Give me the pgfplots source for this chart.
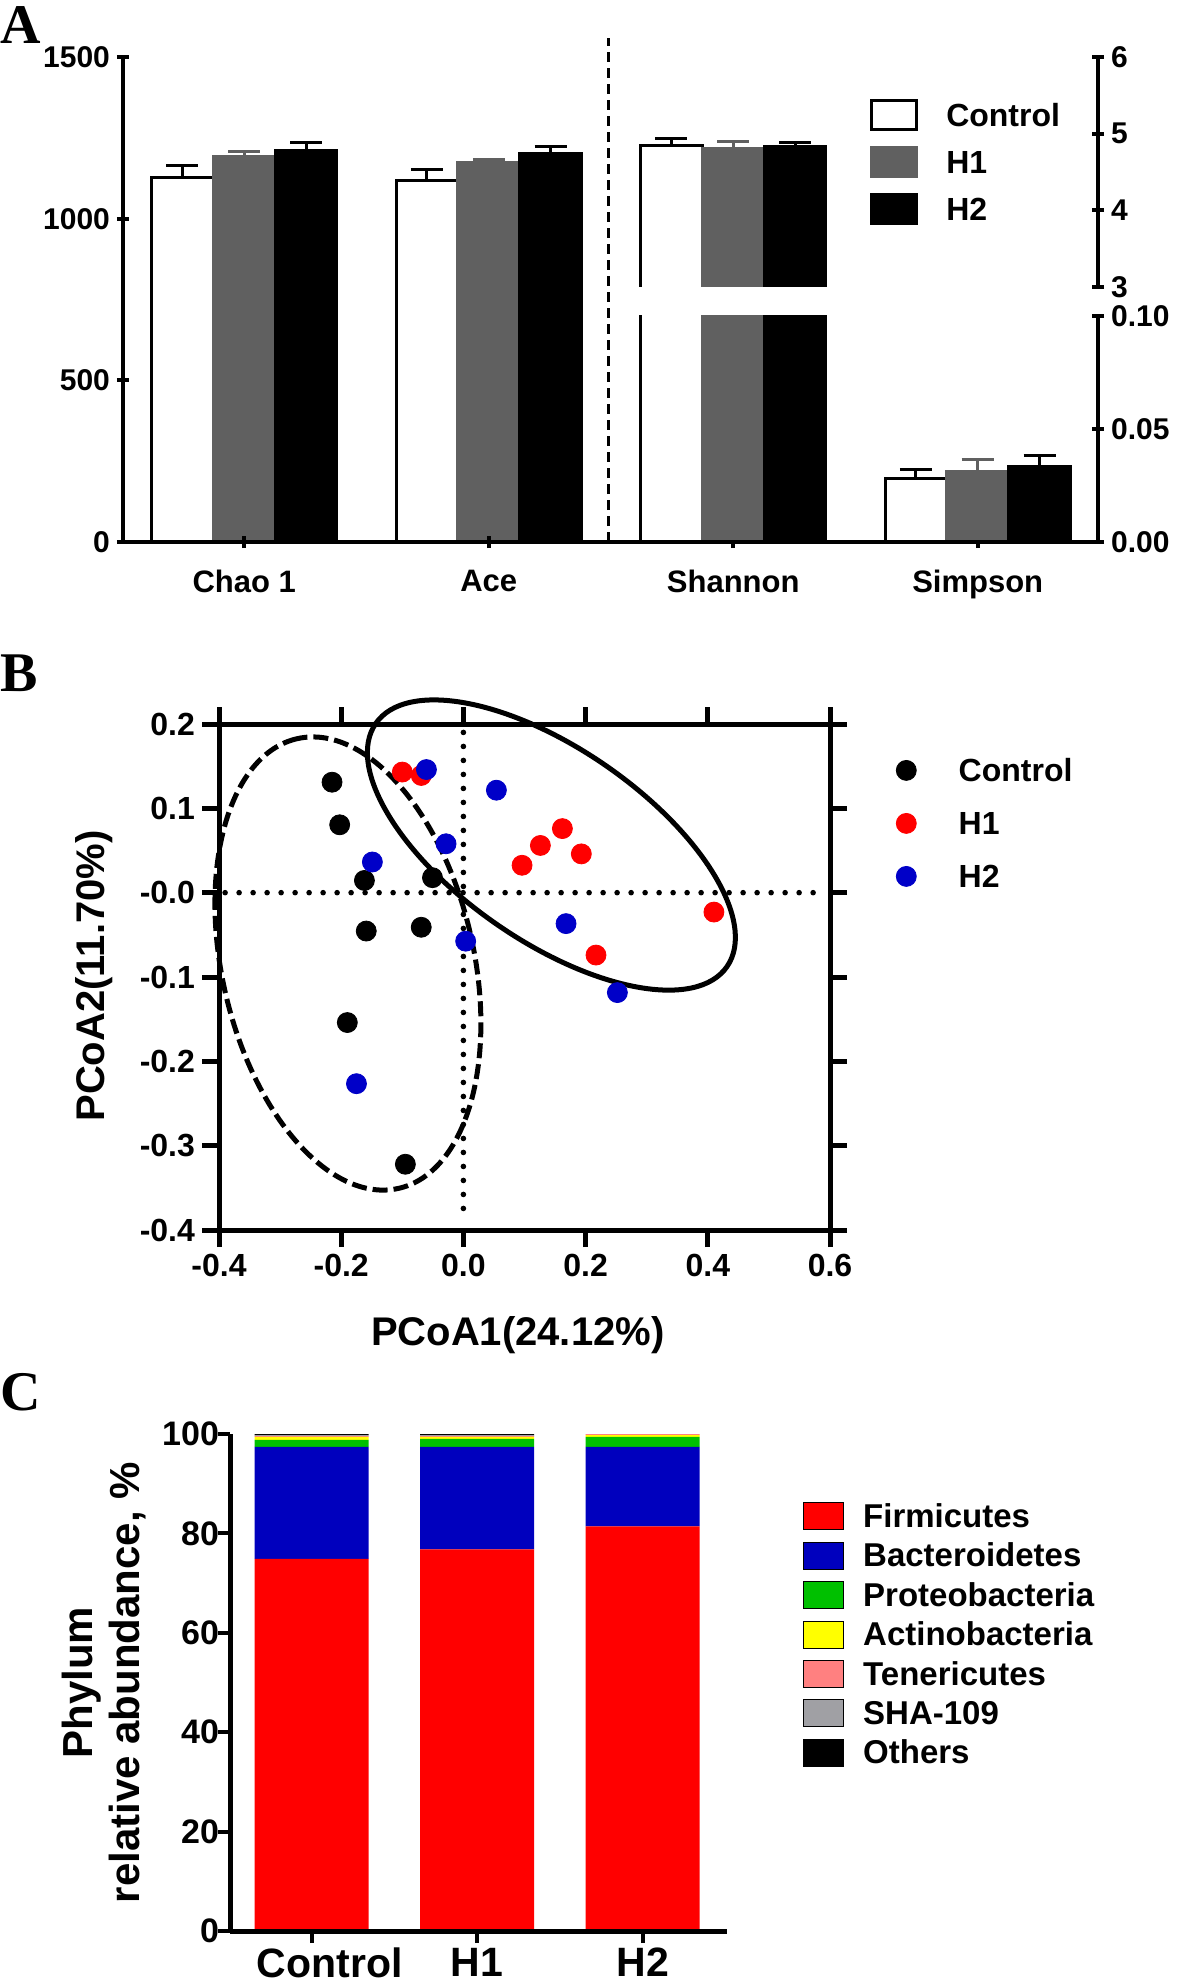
\documentclass[border=0pt]{standalone}
\usepackage{fontspec}
\setmainfont{Liberation Sans}
\newfontfamily\letterfont{Liberation Serif}
\usepackage{pgfplots}
\pgfplotsset{compat=1.18}

\definecolor{hgray}{RGB}{96,96,96}
\definecolor{pred}{RGB}{255,0,0}
\definecolor{pblue}{RGB}{0,0,200}
\definecolor{cred}{RGB}{255,0,0}
\definecolor{cblue}{RGB}{0,0,190}
\definecolor{cgreen}{RGB}{0,192,0}
\definecolor{cyellow}{RGB}{255,255,0}
\definecolor{cpink}{RGB}{255,128,128}
\definecolor{cgrey}{RGB}{160,160,164}

\newcommand\fs[1]{\fontsize{#1}{#1}\selectfont\bfseries}

% legend swatches: box size set per panel by \legw, \legh, \legc
\pgfplotsset{
  boxleg/.style={legend image code/.code={%
    \draw[##1] (0pt,\legc-\legh) rectangle (\legw,\legc+\legh);}},
  dotleg/.style={legend image code/.code={\fill[##1] (5pt,1.5pt) circle (5pt);}},
}

\begin{document}
\begin{tikzpicture}

% ---------------- A : alpha diversity ----------------
\def\legw{22.5pt}\def\legh{7.25pt}\def\legc{1.4pt}
\pgfplotsset{
  panelA/.style={
    anchor=south west, scale only axis, width=487.5pt,
    xmin=-0.496, xmax=3.492,
    tick style={line width=2pt, black}, tick align=outside, major tick length=6pt,
    yticklabel style={font=\fs{15}},
    axis on top,
    error bars/y dir=plus, error bars/y explicit,
    error bars/error bar style={line width=1.5pt},
    error bars/error mark options={rotate=90, line width=1.5pt, mark size=8pt},
  },
  alsA/.style={axis line style={-, line width=2pt}},
  barC/.style={ybar, bar width=0.2527, bar shift=0, color=black, fill=white, line width=1.5pt, boxleg},
  barH1/.style={ybar, bar width=0.2527, bar shift=0, color=hgray, fill=hgray, line width=1.5pt, boxleg},
  barH2/.style={ybar, bar width=0.2527, bar shift=0, color=black, fill=black, line width=1.5pt, boxleg},
}
\begin{axis}[panelA,
  at={(61.5pt,-271pt)}, height=242.35pt,
  ymin=0, ymax=1500, clip=false,
  axis x line=bottom, axis y line=left,
  xtick={0,1,2,3}, xticklabels={Chao 1,Ace,Shannon,Simpson},
  xticklabel style={font=\fs{15.5}, yshift=-7.5pt},
  ytick={0,500,1000,1500}, yticklabels={0,500,1000,1500},
  legend cell align=left,
  legend style={at={(0.766,0.914)}, anchor=north west, draw=none, fill=none,
    inner sep=0pt, font=\fs{16}, row sep=6.35pt,
    nodes={inner sep=0pt, text height=12pt, text depth=3.5pt},
    /tikz/every odd column/.append style={column sep=14pt}},
  alsA,
]
\addplot[barC] coordinates {(-0.2527,1127) +- (0,39) (0.7473,1118) +- (0,36)};
\addplot[barH1] coordinates {(0,1192) +- (0,15) (1,1173) +- (0,12)};
\addplot[barH2] coordinates {(0.2527,1213) +- (0,24) (1.2527,1201) +- (0,24)};
\legend{Control,H1,H2}
\draw[line width=1.5pt, dash pattern=on 5pt off 3pt] (axis cs:1.491,0) -- (axis cs:1.491,1559);
\end{axis}

% upper right scale: Shannon
\begin{axis}[panelA,
  at={(61.5pt,-143.5pt)}, height=115pt,
  ymin=3, ymax=6,
  axis x line=none, axis y line=right,
  xtick=\empty, ytick={3,4,5,6}, yticklabels={3,4,5,6},
  alsA,
]
\addplot[ybar, bar width=0.2527, bar shift=0, fill=white, draw=none,
  error bars/error bar style={draw=black, line width=1.5pt},
  error bars/error mark options={rotate=90, draw=black, line width=1.5pt, mark size=8pt}]
  coordinates {(1.7473,4.85) +- (0,0.09)};
\addplot[black, line width=1.5pt, mark=none, error bars/y dir=none]
  coordinates {(1.62095,3) (1.62095,4.85) (1.87365,4.85) (1.87365,3)};
\addplot[barH1] coordinates {(2,4.80) +- (0,0.10)};
\addplot[barH2] coordinates {(2.2527,4.83) +- (0,0.06)};
\end{axis}

% lower right scale: Simpson (and lower part of the Shannon bars)
\begin{axis}[panelA,
  at={(61.5pt,-271pt)}, height=113pt,
  ymin=0, ymax=0.1,
  axis x line=bottom, axis y line=right,
  xtick=\empty, ytick={0,0.05,0.1}, yticklabels={0.00,0.05,0.10},
  alsA,
]
\addplot[barC] coordinates {(1.7473,4.85) +- (0,0) (2.7473,0.0283) +- (0,0.0037)};
\addplot[barH1] coordinates {(2,4.80) +- (0,0) (3,0.0314) +- (0,0.0052)};
\addplot[barH2] coordinates {(2.2527,4.83) +- (0,0) (3.2527,0.0332) +- (0,0.0050)};
\end{axis}

% ---------------- B : PCoA ----------------
\begin{axis}[
  at={(109.5pt,-615pt)}, anchor=south west, scale only axis,
  width=305.5pt, height=253pt,
  xmin=-0.4, xmax=0.6, ymin=-0.4, ymax=0.2,
  xtick={-0.4,-0.2,0,0.2,0.4,0.6}, xticklabels={-0.4,-0.2,0.0,0.2,0.4,0.6},
  ytick={-0.4,-0.3,-0.2,-0.1,0,0.1,0.2},
  yticklabels={-0.4,-0.3,-0.2,-0.1,-0.0,0.1,0.2},
  tick pos=both, xticklabel pos=bottom, yticklabel pos=left,
  axis line style={line width=2.5pt},
  tick style={line width=2.5pt, black}, tick align=outside, major tick length=8.5pt,
  ticklabel style={font=\fs{16}},
  xlabel={PCoA1(24.12\%)}, ylabel={PCoA2(11.70\%)},
  label style={font=\fs{20}},
  xlabel style={at={(axis description cs:0.489,-0.2075)}, anchor=center},
  ylabel style={at={(axis description cs:-0.2046,0.502)}, anchor=center},
  clip=false,
  legend cell align=left,
  legend style={at={(1.1072,0.9338)}, anchor=north west, draw=none, fill=none,
    inner sep=0pt, font=\fs{16}, row sep=11pt,
    nodes={inner sep=0pt, text height=12pt, text depth=3.5pt},
    /tikz/every odd column/.append style={column sep=21pt}},
]
\draw[line width=2.5pt, dash pattern=on 7.5pt off 3pt,
  rotate around={102.7:(axis cs:-0.189,-0.084)}]
  (axis cs:-0.189,-0.084) ellipse [x radius=115.25pt, y radius=63pt];
\draw[line width=2.5pt, rotate around={-34.7:(axis cs:0.144,0.0565)}]
  (axis cs:0.144,0.0565) ellipse [x radius=106.8pt, y radius=48.15pt];
\addplot[forget plot, line width=2.8pt, line cap=round, dash pattern=on 0pt off 7pt]
  coordinates {(-0.39,0) (0.59,0)};
\addplot[forget plot, line width=2.8pt, line cap=round, dash pattern=on 0pt off 7pt]
  coordinates {(0,0.19) (0,-0.39)};
\addplot[only marks, mark=*, mark size=5pt, color=black, dotleg] coordinates {
  (-0.215,0.131) (-0.2025,0.0805) (-0.162,0.0145) (-0.0506,0.0178)
  (-0.159,-0.0455) (-0.069,-0.041) (-0.190,-0.154) (-0.095,-0.322)};
\addplot[only marks, mark=*, mark size=5pt, color=pred, dotleg] coordinates {
  (-0.100,0.143) (-0.069,0.139) (0.162,0.076) (0.126,0.056)
  (0.193,0.046) (0.096,0.0325) (0.410,-0.023) (0.217,-0.074)};
\addplot[only marks, mark=*, mark size=5pt, color=pblue, dotleg] coordinates {
  (-0.0605,0.146) (0.054,0.1215) (-0.0284,0.058) (-0.149,0.0364)
  (0.0037,-0.0575) (0.168,-0.0367) (0.252,-0.1185) (-0.175,-0.2265)};
\legend{Control,H1,H2}
\end{axis}

% ---------------- C : phylum composition ----------------
\def\legw{20pt}\def\legh{6.75pt}\def\legc{1.3pt}
\begin{axis}[
  at={(115pt,-965.5pt)}, anchor=south west, scale only axis,
  width=248.5pt, height=248.5pt,
  xmin=-0.494, xmax=2.51, ymin=0, ymax=100,
  ybar stacked, bar width=0.689,
  axis x line=bottom, axis y line=left,
  axis line style={-, line width=2.5pt},
  tick style={line width=2pt, black}, tick align=outside, major tick length=6pt,
  xtick={0,1,2}, xticklabels={\hspace*{18pt}Control,H1,H2},
  xticklabel style={font=\fs{20.5}, yshift=1pt},
  ytick={0,20,40,60,80,100}, yticklabels={0,20,40,60,80,100},
  yticklabel style={font=\fs{17}, xshift=4pt},
  ylabel={Phylum\\relative abundance, \%},
  ylabel style={font=\fontsize{21}{23.5}\selectfont\bfseries, align=center,
    at={(axis description cs:-0.2525,0.5)}, anchor=center},
  axis on top,
  legend cell align=left,
  legend style={at={(1.1529,0.8632)}, anchor=north west, draw=none, fill=none,
    inner sep=0pt, font=\fs{16.5}, row sep=3.7pt,
    nodes={inner sep=0pt, text height=12pt, text depth=3.5pt},
    /tikz/every odd column/.append style={column sep=9.5pt}},
]
\addplot[fill=cred, draw=none, boxleg] coordinates {(0,74.9) (1,76.8) (2,81.4)};
\addplot[fill=cblue, draw=none, boxleg] coordinates {(0,22.5) (1,20.6) (2,16.0)};
\addplot[fill=cgreen, draw=none, boxleg] coordinates {(0,1.4) (1,1.6) (2,2.0)};
\addplot[fill=cyellow, draw=none, boxleg] coordinates {(0,0.6) (1,0.4) (2,0.4)};
\addplot[fill=cpink, draw=none, boxleg] coordinates {(0,0.2) (1,0.2) (2,0.2)};
\addplot[fill=cgrey, draw=none, boxleg] coordinates {(0,0.2) (1,0.2) (2,0.05)};
\addplot[fill=black, draw=none, boxleg] coordinates {(0,0.2) (1,0.2) (2,0.05)};
\legend{Firmicutes,Bacteroidetes,Proteobacteria,Actinobacteria,Tenericutes,SHA-109,Others}
\end{axis}

% panel letters
\node[anchor=north west, inner sep=0pt, font=\letterfont\bfseries\fontsize{28}{28}\selectfont] at (0pt,-3pt) {A};
\node[anchor=north west, inner sep=0pt, font=\letterfont\bfseries\fontsize{28}{28}\selectfont] at (0pt,-327pt) {B};
\node[anchor=north west, inner sep=0pt, font=\letterfont\bfseries\fontsize{28}{28}\selectfont] at (0pt,-686.5pt) {C};

\pgfresetboundingbox
\path[use as bounding box] (0pt,0pt) rectangle (590.5pt,-992pt);
\end{tikzpicture}
\end{document}
